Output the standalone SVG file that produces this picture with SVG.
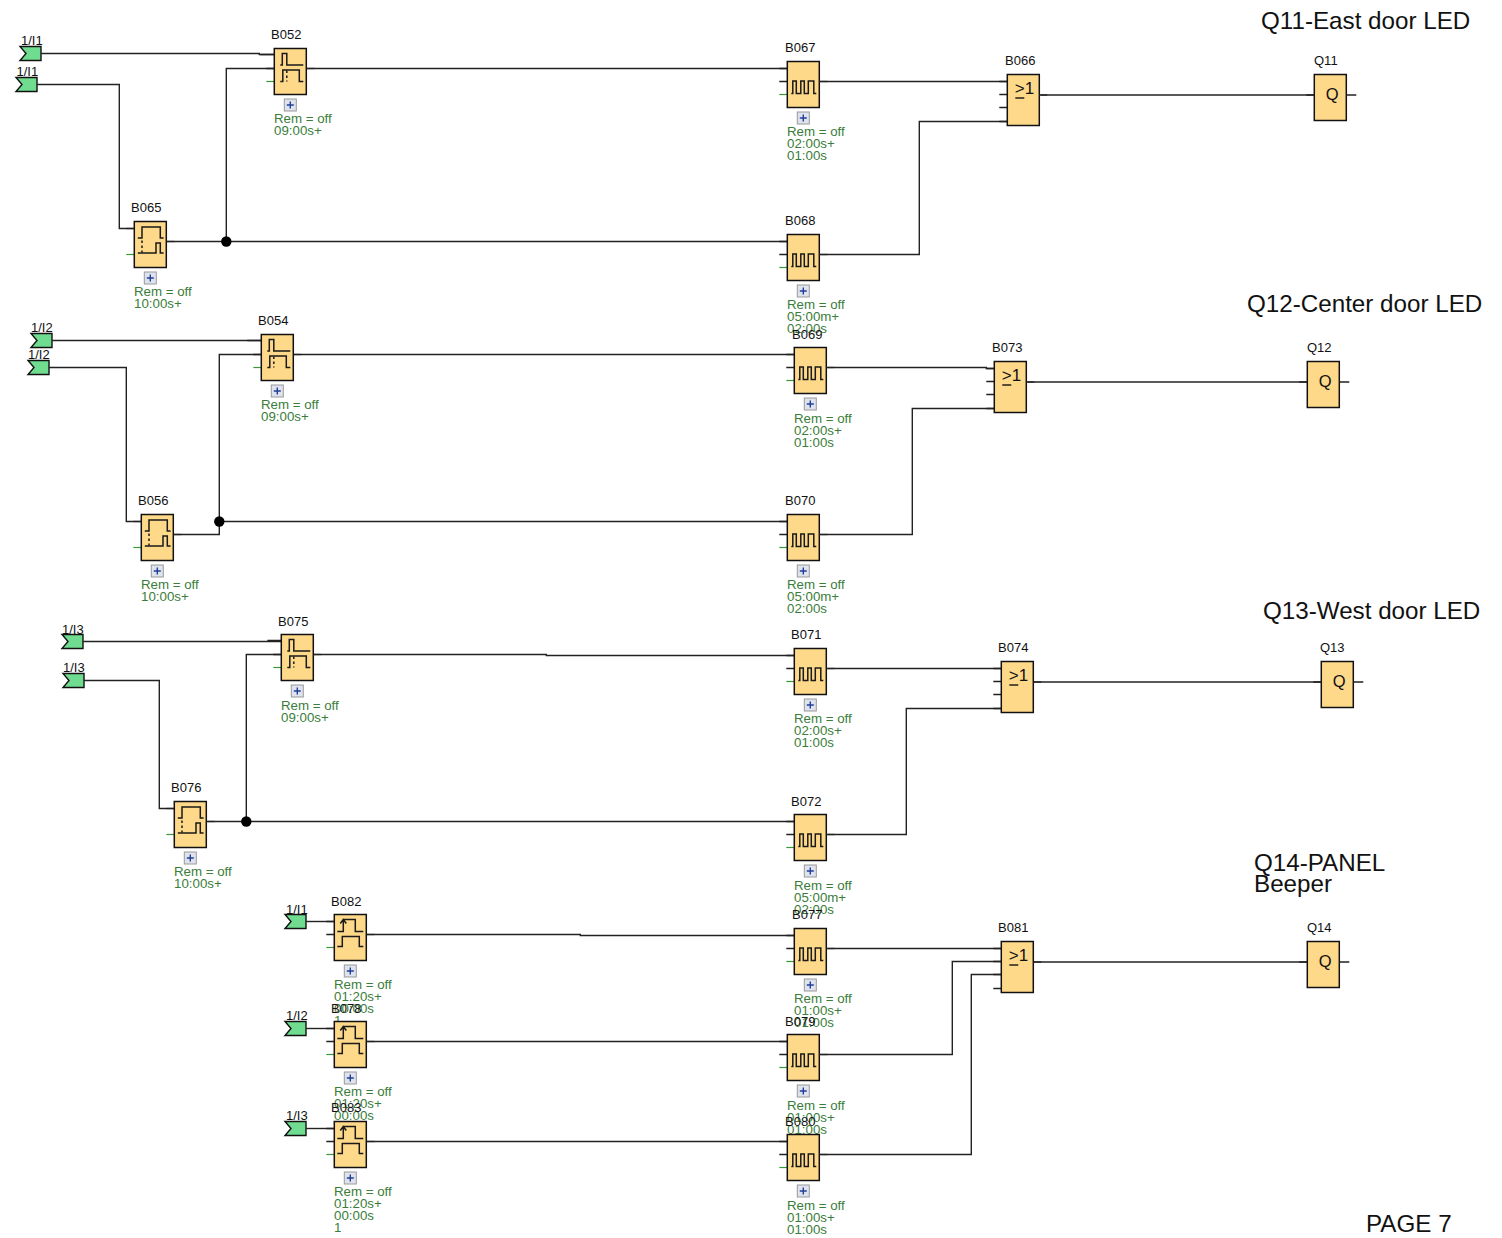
<svg xmlns="http://www.w3.org/2000/svg" xmlns:xlink="http://www.w3.org/1999/xlink" width="1502" height="1238" viewBox="0 0 1502 1238">
<style>
text{font-family:"Liberation Sans",Arial,sans-serif}
.l{font-size:13px;fill:#111}
.p{font-size:13.3px;fill:#3a7d3a}
.t{font-size:24.2px;fill:#111}
.box{fill:#ffd98a;stroke:#111;stroke-width:1.5}
.pin{stroke:#222;stroke-width:1.3;fill:none}
.g{stroke:#3a9a3a;stroke-width:1.2;fill:none}
.w{stroke:#1a1a1a;stroke-width:1.5;fill:none}
.d{stroke:#1a1a1a;stroke-width:1.5;fill:none;stroke-dasharray:2.5 2.5}
.wire{stroke:#222;stroke-width:1.4;fill:none}
.term{fill:#6fdc8f;stroke:#111;stroke-width:1.4}
.sym{font-size:17px;fill:#111}
</style>
<defs>
<g id="plus"><rect x="10" y="50.500" width="12" height="12" fill="#dfe3ee" stroke="#999" stroke-width="1"/><path d="M16 53V60M12.500 56.500H19.500" stroke="#1f3f99" stroke-width="1.4"/></g>
<g id="body"><path class="g" d="M-8 33H0"/><rect class="box" width="32" height="46"/></g>
<g id="bA" transform="translate(.3 .5)"><path class="pin" d="M-14 6H0M-8 20H0"/><use xlink:href="#body"/><path class="pin" d="M32 20H40"/><path class="w" d="M6 16.500H8V5H12.500V16.500H29M6 33H8.500V21.500H25V33H29"/><path class="d" d="M12.500 22V33"/><use xlink:href="#plus"/></g>
<g id="bO" transform="translate(.3 .5)"><path class="pin" d="M-8 7H0"/><use xlink:href="#body"/><path class="pin" d="M32 20H40"/><path class="w" d="M3.500 16.500H7.700V5.500H26V16.500H29.300M3.500 31.500H21.700V21.500H26V31.500H29.300"/><path class="d" d="M7.700 19V31"/><use xlink:href="#plus"/></g>
<g id="bE" transform="translate(.3 .5)"><path class="pin" d="M-8 7H0M-8 20H0"/><use xlink:href="#body"/><path class="pin" d="M32 20H40"/><path class="w" d="M3 17H9V5H21V17H29M3 32H8V22H25V32H29M6 9L9 5L12 9"/><use xlink:href="#plus"/></g>
<g id="bP" transform="translate(.3 .5)"><path class="pin" d="M-8 7H0M-8 20H0"/><use xlink:href="#body"/><path class="pin" d="M32 20H40"/><path class="w" d="M4 32H5.500V19.500H9V32H13.500V19.500H17V32H21V19.500H26.500V32H29"/><use xlink:href="#plus"/></g>
<g id="bOr" transform="translate(.3 .5)"><path class="pin" d="M-8 7H0M-8 20H0M-8 33H0M-8 47H0"/><rect class="box" width="32" height="51"/><path class="pin" d="M32 20.500H40"/><text class="sym" x="7.500" y="19">&gt;1</text><path d="M8 23.500H17" stroke="#111" stroke-width="1.4"/></g>
<g id="bQ" transform="translate(.3 .5)"><rect class="box" width="32" height="46"/><path class="pin" d="M-8 20.500H0M32 20.500H42"/><text x="11.500" y="25.500" style="font-size:16.500px" fill="#111">Q</text></g>
<path id="tm" class="term" d="M0 0H21V14H0L6 7Z"/>
</defs>

<g id="connectors" transform="translate(.3 .5)">
<path class="wire" d="M41 53H259V54H274"/>
<path class="wire" d="M37 84H119V228H134"/>
<path class="wire" d="M166 241H787M226 241V68H274"/>
<path class="wire" d="M306 68H787"/>
<path class="wire" d="M820 81H1007"/>
<path class="wire" d="M820 254H919V121H1007"/>
<path class="wire" d="M1040 94.500H1314"/>
<path class="wire" d="M52 340H261"/>
<path class="wire" d="M49 367H126V521H141"/>
<path class="wire" d="M173 534H219V354H261M219 521H787"/>
<path class="wire" d="M293 354H794"/>
<path class="wire" d="M827 367H986V368H994"/>
<path class="wire" d="M820 534H912V408H994"/>
<path class="wire" d="M1027 381.500H1307"/>
<path class="wire" d="M83 641H281"/>
<path class="wire" d="M84 680H159V808H174"/>
<path class="wire" d="M207 821H794M246 821V654H281"/>
<path class="wire" d="M313 654H546V655H794"/>
<path class="wire" d="M827 668H1001"/>
<path class="wire" d="M827 834H906V708H1001"/>
<path class="wire" d="M1033 681.500H1321"/>
<path class="wire" d="M306 921H334"/>
<path class="wire" d="M366 934H580V935H794"/>
<path class="wire" d="M827 948H1001"/>
<path class="wire" d="M306 1028H334"/>
<path class="wire" d="M366 1041H787"/>
<path class="wire" d="M820 1054H952V961H1001"/>
<path class="wire" d="M306 1128H334"/>
<path class="wire" d="M366 1141H787"/>
<path class="wire" d="M820 1154H971V974H1001"/>
<path class="wire" d="M1033 961.500H1307"/>
<circle cx="226" cy="241" r="5.200" fill="#000"/>
<circle cx="219" cy="521" r="5.200" fill="#000"/>
<circle cx="246" cy="821" r="5.200" fill="#000"/>
</g>

<g id="inputs">
<use xlink:href="#tm" x="20" y="46.500"/><text class="l" x="21" y="45">1/I1</text>
<use xlink:href="#tm" x="16" y="77.500"/><text class="l" x="16.500" y="76">1/I1</text>
<use xlink:href="#tm" x="31" y="333.500"/><text class="l" x="31" y="332">1/I2</text>
<use xlink:href="#tm" x="28" y="360.500"/><text class="l" x="28" y="359">1/I2</text>
<use xlink:href="#tm" x="62" y="634.500"/><text class="l" x="62" y="634">1/I3</text>
<use xlink:href="#tm" x="63" y="673.500"/><text class="l" x="63" y="672">1/I3</text>
<use xlink:href="#tm" x="285" y="914.500"/><text class="l" x="286" y="914">1/I1</text>
<use xlink:href="#tm" x="285" y="1021.500"/><text class="l" x="286" y="1020">1/I2</text>
<use xlink:href="#tm" x="285" y="1121.500"/><text class="l" x="286" y="1120">1/I3</text>
</g>

<g id="B052"><use xlink:href="#bA" x="274" y="48"/><text class="l" x="271" y="39">B052</text><text class="p" x="274" y="123">Rem = off</text><text class="p" x="274" y="135">09:00s+</text></g>
<g id="B067"><use xlink:href="#bP" x="787" y="61"/><text class="l" x="785" y="52">B067</text><text class="p" x="787" y="136">Rem = off</text><text class="p" x="787" y="148">02:00s+</text><text class="p" x="787" y="160">01:00s</text></g>
<g id="B066"><use xlink:href="#bOr" x="1007" y="74"/><text class="l" x="1005" y="65">B066</text></g>
<g id="Q11"><use xlink:href="#bQ" x="1314" y="74"/><text class="l" x="1314" y="65">Q11</text></g>
<g id="B065"><use xlink:href="#bO" x="134" y="221"/><text class="l" x="131" y="212">B065</text><text class="p" x="134" y="296">Rem = off</text><text class="p" x="134" y="308">10:00s+</text></g>
<g id="B068"><use xlink:href="#bP" x="787" y="234"/><text class="l" x="785" y="225">B068</text><text class="p" x="787" y="309">Rem = off</text><text class="p" x="787" y="321">05:00m+</text><text class="p" x="787" y="333">02:00s</text></g>

<g id="B054"><use xlink:href="#bA" x="261" y="334"/><text class="l" x="258" y="325">B054</text><text class="p" x="261" y="409">Rem = off</text><text class="p" x="261" y="421">09:00s+</text></g>
<g id="B069"><use xlink:href="#bP" x="794" y="347"/><text class="l" x="792" y="339">B069</text><text class="p" x="794" y="423">Rem = off</text><text class="p" x="794" y="435">02:00s+</text><text class="p" x="794" y="447">01:00s</text></g>
<g id="B073"><use xlink:href="#bOr" x="994" y="361"/><text class="l" x="992" y="352">B073</text></g>
<g id="Q12"><use xlink:href="#bQ" x="1307" y="361"/><text class="l" x="1307" y="352">Q12</text></g>
<g id="B056"><use xlink:href="#bO" x="141" y="514"/><text class="l" x="138" y="505">B056</text><text class="p" x="141" y="589">Rem = off</text><text class="p" x="141" y="601">10:00s+</text></g>
<g id="B070"><use xlink:href="#bP" x="787" y="514"/><text class="l" x="785" y="505">B070</text><text class="p" x="787" y="589">Rem = off</text><text class="p" x="787" y="601">05:00m+</text><text class="p" x="787" y="613">02:00s</text></g>

<g id="B075"><use xlink:href="#bA" x="281" y="634"/><text class="l" x="278" y="626">B075</text><text class="p" x="281" y="710">Rem = off</text><text class="p" x="281" y="722">09:00s+</text></g>
<g id="B071"><use xlink:href="#bP" x="794" y="648"/><text class="l" x="791" y="639">B071</text><text class="p" x="794" y="723">Rem = off</text><text class="p" x="794" y="735">02:00s+</text><text class="p" x="794" y="747">01:00s</text></g>
<g id="B074"><use xlink:href="#bOr" x="1001" y="661"/><text class="l" x="998" y="652">B074</text></g>
<g id="Q13"><use xlink:href="#bQ" x="1321" y="661"/><text class="l" x="1320" y="652">Q13</text></g>
<g id="B076"><use xlink:href="#bO" x="174" y="801"/><text class="l" x="171" y="792">B076</text><text class="p" x="174" y="876">Rem = off</text><text class="p" x="174" y="888">10:00s+</text></g>
<g id="B072"><use xlink:href="#bP" x="794" y="814"/><text class="l" x="791" y="806">B072</text><text class="p" x="794" y="890">Rem = off</text><text class="p" x="794" y="902">05:00m+</text><text class="p" x="794" y="914">02:00s</text></g>

<g id="B082"><use xlink:href="#bE" x="334" y="914"/><text class="l" x="331" y="906">B082</text><text class="p" x="334" y="989">Rem = off</text><text class="p" x="334" y="1001">01:20s+</text><text class="p" x="334" y="1013">00:00s</text><text class="p" x="334" y="1025">1</text></g>
<g id="B077"><use xlink:href="#bP" x="794" y="928"/><text class="l" x="792" y="919">B077</text><text class="p" x="794" y="1003">Rem = off</text><text class="p" x="794" y="1015">01:00s+</text><text class="p" x="794" y="1027">01:00s</text></g>
<g id="B081"><use xlink:href="#bOr" x="1001" y="941"/><text class="l" x="998" y="932">B081</text></g>
<g id="Q14"><use xlink:href="#bQ" x="1307" y="941"/><text class="l" x="1307" y="932">Q14</text></g>
<g id="B078"><use xlink:href="#bE" x="334" y="1021"/><text class="l" x="331" y="1013">B078</text><text class="p" x="334" y="1096">Rem = off</text><text class="p" x="334" y="1108">01:20s+</text><text class="p" x="334" y="1120">00:00s</text><text class="p" x="334" y="1132">1</text></g>
<g id="B079"><use xlink:href="#bP" x="787" y="1034"/><text class="l" x="785" y="1026">B079</text><text class="p" x="787" y="1110">Rem = off</text><text class="p" x="787" y="1122">01:00s+</text><text class="p" x="787" y="1134">01:00s</text></g>
<g id="B083"><use xlink:href="#bE" x="334" y="1121"/><text class="l" x="331" y="1112">B083</text><text class="p" x="334" y="1196">Rem = off</text><text class="p" x="334" y="1208">01:20s+</text><text class="p" x="334" y="1220">00:00s</text><text class="p" x="334" y="1232">1</text></g>
<g id="B080"><use xlink:href="#bP" x="787" y="1134"/><text class="l" x="785" y="1126">B080</text><text class="p" x="787" y="1210">Rem = off</text><text class="p" x="787" y="1222">01:00s+</text><text class="p" x="787" y="1234">01:00s</text></g>

<g id="titles">
<text class="t" x="1261" y="29">Q11-East door LED</text>
<text class="t" x="1247" y="312">Q12-Center door LED</text>
<text class="t" x="1263" y="619">Q13-West door LED</text>
<text class="t" x="1254" y="871">Q14-PANEL</text>
<text class="t" x="1254" y="892">Beeper</text>
<text class="t" x="1366" y="1232">PAGE 7</text>
</g>
</svg>
